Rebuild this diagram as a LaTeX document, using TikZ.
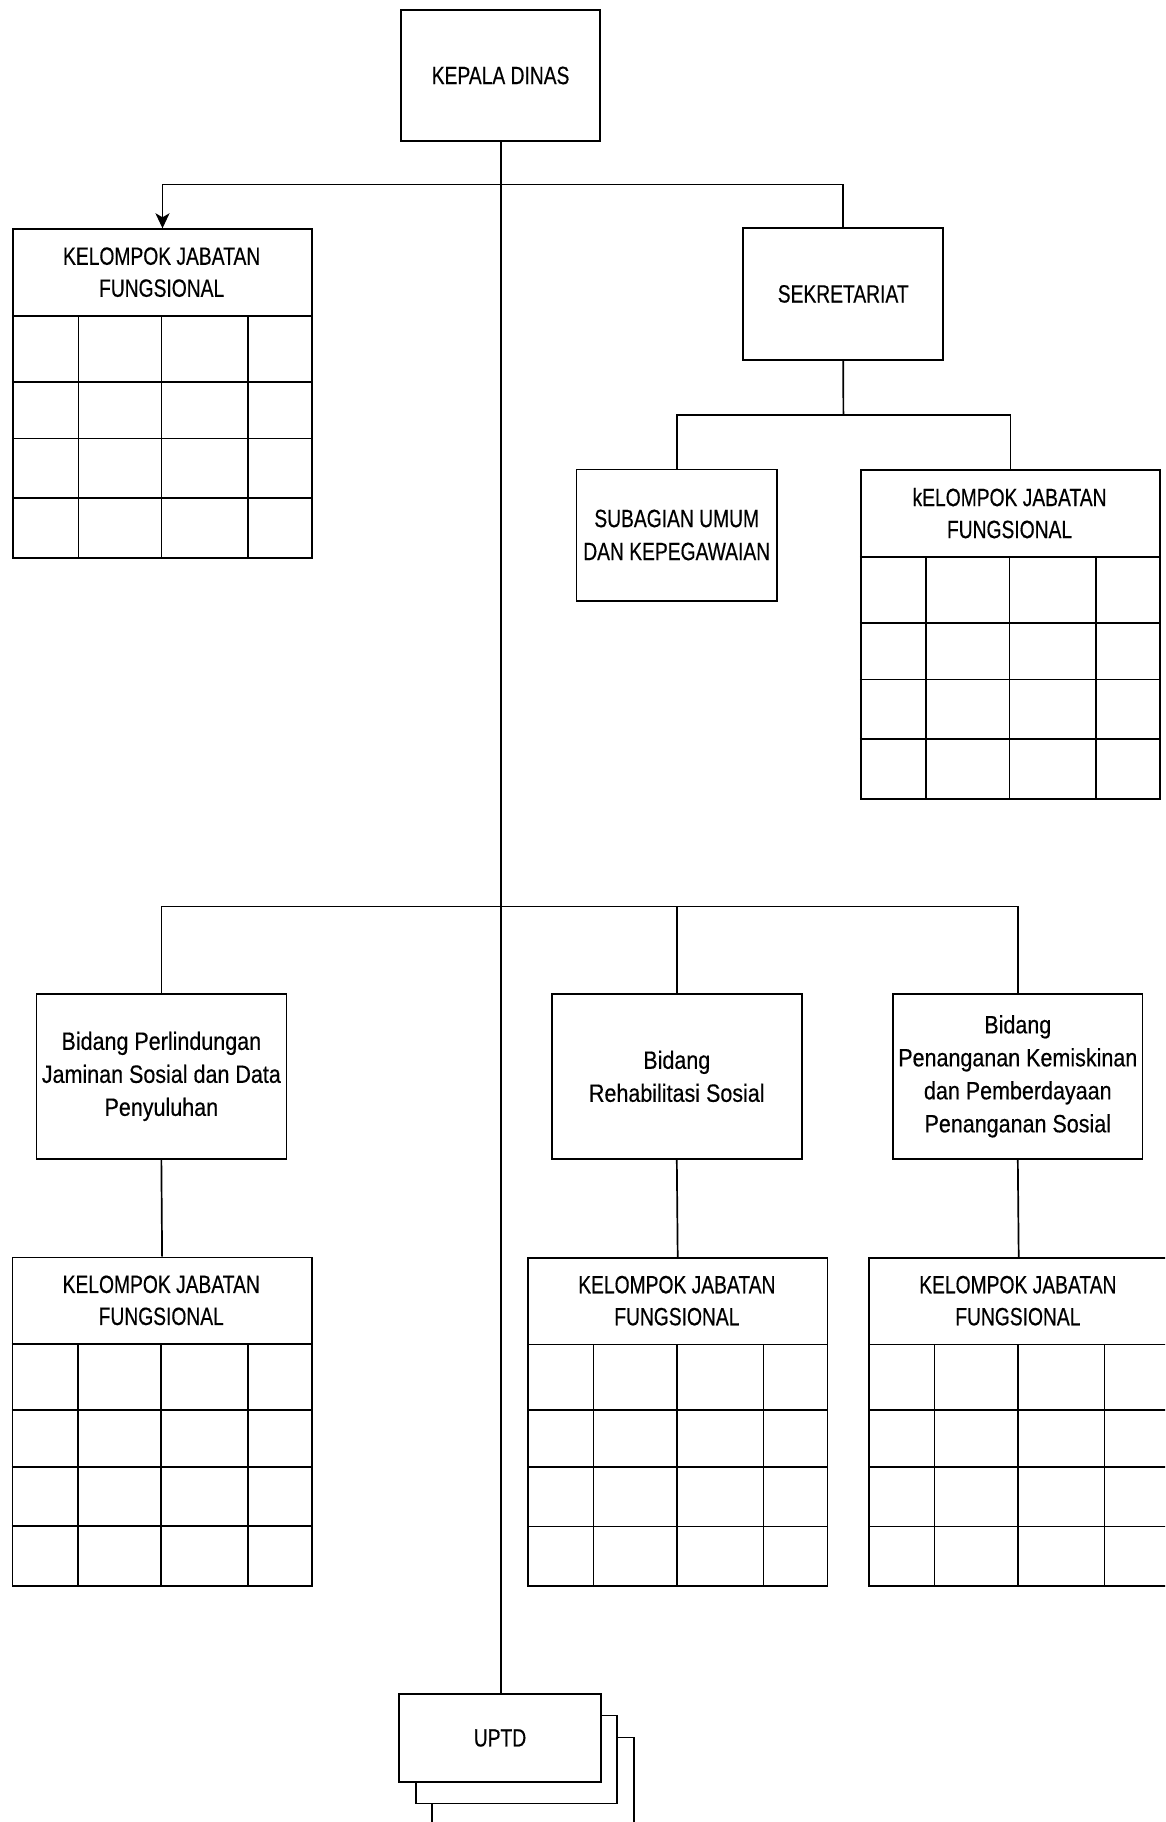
\documentclass[tikz,border=0pt]{standalone}
\usepackage{fontspec}
\setmainfont{Liberation Sans}[FakeStretch=0.86,FakeBold=0.4]
\newfontfamily\capsfont{Liberation Sans}[FakeStretch=0.77,FakeBold=0.4]
\usetikzlibrary{arrows.meta,calc}
\tikzset{
  lw/.style={line width=1.7pt},
  box/.style={draw, lw, fill=white, inner sep=0pt, align=center, font=\fontsize{25}{33}\selectfont},
  capsbox/.style={box, font=\capsfont\fontsize{25}{33}\selectfont},
  capslabel/.style={inner sep=0pt, align=center, font=\capsfont\fontsize{25}{32}\selectfont},
  kjfbox/.style={draw, lw, fill=white, inner sep=0pt, minimum width=299.5pt, minimum height=328.5pt},
  conn/.style={lw},
  mainline/.style={line width=2pt},
  gridline/.style={lw},
  tip/.style={-{Stealth[length=15pt,width=14pt,inset=4pt]}}
}
\newcommand\kjfgroup[4]{%
  \begin{scope}[shift={(#2,#3)}]
    \node[kjfbox, anchor=north west] (#1) at (0,0) {};
    \node[capslabel] (#1-t) at (149.75,43.85) {#4};
    \draw[gridline] (0,87.7) -- (299.5,87.7);
    \foreach \yy in {153.5,210.3,269.7} {\draw[gridline] (0,\yy) -- (299.5,\yy);}
    \foreach \xx in {66.5,149.6,236.3} {\draw[gridline] (\xx,87.7) -- (\xx,328.5);}
  \end{scope}}
\begin{document}
\begin{tikzpicture}[x=1pt,y=-1pt]
\useasboundingbox (0,0) rectangle (1165,1822);
\clip (0,0) rectangle (1165,1822);

% top level
\node[capsbox, minimum width=199.2pt, minimum height=131pt] (kd) at (500.6,75.5) {KEPALA DINAS};
\node[capsbox, minimum width=199.8pt, minimum height=131.6pt] (sek) at (843.2,293.9) {SEKRETARIAT};
\node[capsbox, minimum width=200.2pt, minimum height=131.3pt] (sub) at (676.7,535) {SUBAGIAN UMUM\\DAN KEPEGAWAIAN};

% functional groups
\kjfgroup{k1}{11.9}{228.3}{KELOMPOK JABATAN\\FUNGSIONAL}
\kjfgroup{k2}{859.8}{469.3}{kELOMPOK JABATAN\\FUNGSIONAL}
\kjfgroup{k3}{11.5}{1256.5}{KELOMPOK JABATAN\\FUNGSIONAL}
\kjfgroup{k4}{527.1}{1256.8}{KELOMPOK JABATAN\\FUNGSIONAL}
\kjfgroup{k5}{868.1}{1256.8}{KELOMPOK JABATAN\\FUNGSIONAL}

% bidang
\node[box, minimum width=250pt, minimum height=164.7pt] (b1) at (161.35,1076.35) {Bidang Perlindungan\\Jaminan Sosial dan Data\\Penyuluhan};
\node[box, minimum width=250.2pt, minimum height=164.7pt] (b2) at (676.8,1076.35) {Bidang\\Rehabilitasi Sosial};
\node[box, minimum width=249.4pt, minimum height=164.7pt] (b3) at (1017.8,1076.35) {Bidang\\Penanganan Kemiskinan\\dan Pemberdayaan\\Penanganan Sosial};

% UPTD stack
\node[draw, lw, fill=white, minimum width=201.4pt, minimum height=88pt, inner sep=0pt] (uptd3) at (533,1781.5) {};
\node[draw, lw, fill=white, minimum width=201.4pt, minimum height=88pt, inner sep=0pt] (uptd2) at (516.4,1759.6) {};
\node[capsbox, minimum width=201.4pt, minimum height=88pt] (uptd) at (500,1738) {UPTD};

% junctions
\coordinate (j1) at (500.6,184.6);
\coordinate (j2) at (500.6,906.6);
\coordinate (j3) at (843.4,414.7);

% connectors
\draw[mainline] (kd.south) -- (kd.south |- uptd.north);
\draw[conn, tip] (j1) -| (k1.north);
\draw[conn] (j1) -| (sek.north);
\draw[conn] (sek.south) -- (j3);
\draw[conn] (j3) -| (sub.north);
\draw[conn] (j3) -| (k2.north);
\draw[conn] (j2) -| (b1.north);
\draw[conn] (j2) -| (b2.north);
\draw[conn] (j2) -| (b3.north);
\draw[conn] (b1.south) -- (k3.north);
\draw[conn] (b2.south) -- (k4.north);
\draw[conn] (b3.south) -- (k5.north);
\end{tikzpicture}
\end{document}
